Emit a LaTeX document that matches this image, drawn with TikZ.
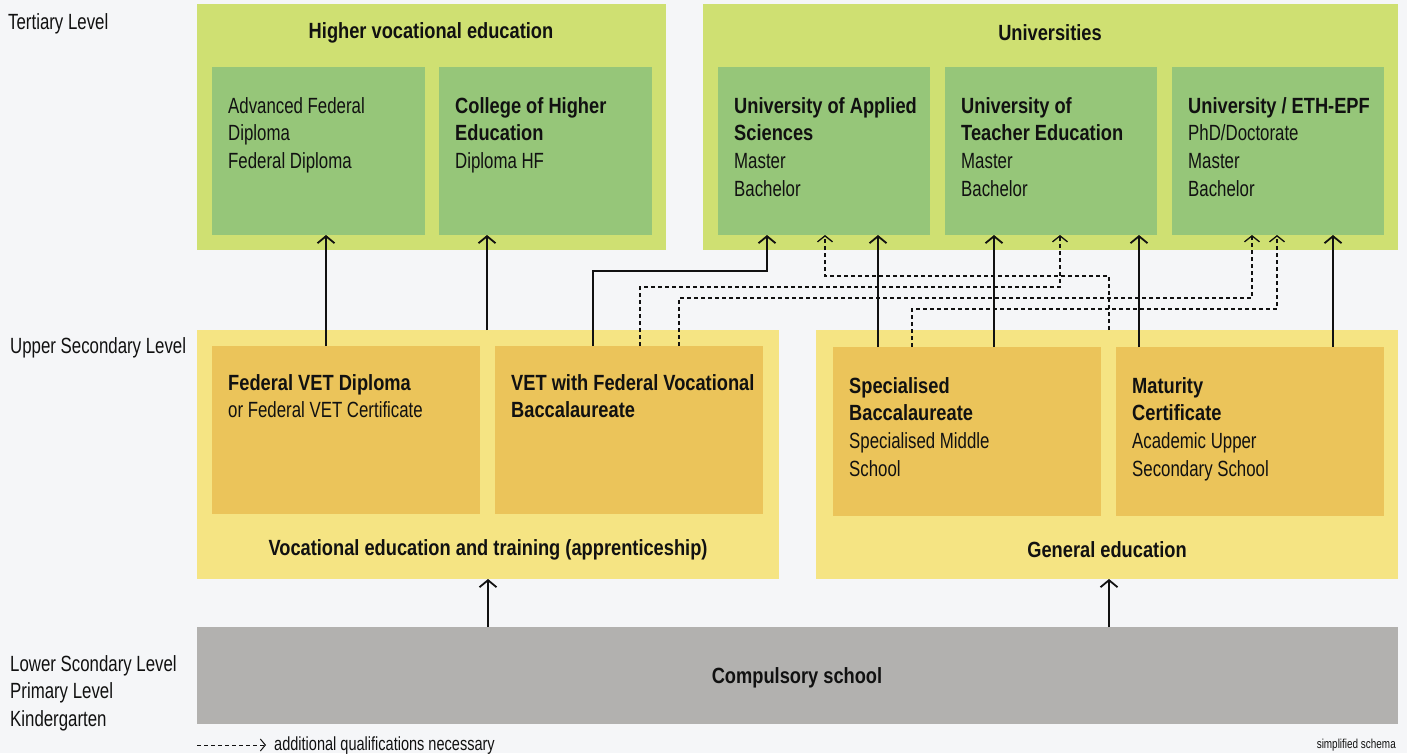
\documentclass[tikz,border=0pt]{standalone}
\usepackage{fontspec}
\setmainfont{Liberation Sans}[FakeStretch=0.765, BoldFeatures={FakeStretch=0.83}]
\usetikzlibrary{arrows.meta}
\definecolor{bg}{HTML}{F5F6F8}
\definecolor{outg}{HTML}{CFE072}
\definecolor{inng}{HTML}{96C679}
\definecolor{outy}{HTML}{F5E483}
\definecolor{inny}{HTML}{EBC45A}
\definecolor{grayb}{HTML}{B2B1AF}
\definecolor{ink}{HTML}{111111}
\begin{document}
\begin{tikzpicture}[x=1pt,y=-1pt,
  box/.style={draw=none, inner sep=0pt, outer sep=0pt, anchor=north west},
  lbl/.style={inner sep=0pt, anchor=north west, align=left, text=ink, font=\fontsize{22}{27.8}\selectfont},
  ttl/.style={inner sep=0pt, text=ink, font=\fontsize{22}{27.8}\selectfont\bfseries},
  arr/.style={draw=ink, line width=1.8pt, -{Straight Barb[length=7pt,width=17pt]}},
  dsh/.style={draw=ink, line width=1.3pt, dash pattern=on 4pt off 3pt, -{Straight Barb[length=6pt,width=15pt]}}
]
\useasboundingbox (0,0) rectangle (1407,753);
\fill[bg] (0,0) rectangle (1407,753);

% outer boxes
\node[box, fill=outg, minimum width=469pt, minimum height=246pt] (hve) at (197,4) {};
\node[box, fill=outg, minimum width=695pt, minimum height=246pt] (uni) at (703,4) {};
\node[box, fill=outy, minimum width=582pt, minimum height=249pt] (vet) at (197,330) {};
\node[box, fill=outy, minimum width=582pt, minimum height=249pt] (gen) at (816,330) {};
\node[box, fill=grayb, minimum width=1201pt, minimum height=97pt] (comp) at (197,627) {};

% inner boxes
\node[box, fill=inng, minimum width=213pt, minimum height=168pt] (hve1) at (212,67) {};
\node[box, fill=inng, minimum width=213pt, minimum height=168pt] (hve2) at (439,67) {};
\node[box, fill=inng, minimum width=212pt, minimum height=168pt] (uas) at (718,67) {};
\node[box, fill=inng, minimum width=212pt, minimum height=168pt] (phz) at (945,67) {};
\node[box, fill=inng, minimum width=212pt, minimum height=168pt] (eth) at (1172,67) {};
\node[box, fill=inny, minimum width=268pt, minimum height=168pt] (fvet) at (212,346) {};
\node[box, fill=inny, minimum width=268pt, minimum height=168pt] (vbac) at (495,346) {};
\node[box, fill=inny, minimum width=268pt, minimum height=169pt] (spec) at (833,347) {};
\node[box, fill=inny, minimum width=268pt, minimum height=169pt] (mat) at (1116,347) {};

% titles
\node[ttl] (thve) at (431,33) {Higher vocational education};
\node[ttl] (tuni) at (1050,33) {Universities};
\node[ttl] (tvet) at (488,550) {Vocational education and training (apprenticeship)};
\node[ttl] (tgen) at (1107,550) {General education};
\node[ttl] (tcomp) at (797,678) {Compulsory school};

% inner texts
\node[lbl] (lhve1) at (228,97) {Advanced Federal\\Diploma\\Federal Diploma};
\node[lbl] (lhve2) at (455,97) {\textbf{College of Higher}\\\textbf{Education}\\Diploma HF};
\node[lbl] (luas) at (734,97) {\textbf{University of Applied}\\\textbf{Sciences}\\Master\\Bachelor};
\node[lbl] (lphz) at (961,97) {\textbf{University of}\\\textbf{Teacher Education}\\Master\\Bachelor};
\node[lbl] (leth) at (1188,97) {\textbf{University / ETH-EPF}\\PhD/Doctorate\\Master\\Bachelor};
\node[lbl] (lfvet) at (228,374) {\textbf{Federal VET Diploma}\\or Federal VET Certificate};
\node[lbl] (lvbac) at (511,374) {\textbf{VET with Federal Vocational}\\\textbf{Baccalaureate}};
\node[lbl] (lspec) at (849,377) {\textbf{Specialised}\\\textbf{Baccalaureate}\\Specialised Middle\\School};
\node[lbl] (lmat) at (1132,377) {\textbf{Maturity}\\\textbf{Certificate}\\Academic Upper\\Secondary School};

% level labels
\node[lbl, anchor=base west] (lv1) at (8,29) {Tertiary Level};
\node[lbl, anchor=base west] (lv2) at (10,353) {Upper Secondary Level};
\node[lbl] (lv3) at (10,655) {Lower Scondary Level\\Primary Level\\Kindergarten};

% solid arrows
\draw[arr] (326,0 |- fvet.north) -- (326,0 |- hve1.south);
\draw[arr] (487,0 |- vet.north) -- (487,0 |- hve2.south);
\draw[arr] (593,0 |- vbac.north) -- (593,271) -- (767,271) -- (767,0 |- uas.south);
\draw[arr] (878,0 |- spec.north) -- (878,0 |- uas.south);
\draw[arr] (994,0 |- spec.north) -- (994,0 |- phz.south);
\draw[arr] (1139,0 |- mat.north) -- (1139,0 |- phz.south);
\draw[arr] (1333,0 |- mat.north) -- (1333,0 |- eth.south);
\draw[arr] (488,0 |- comp.north) -- (488,0 |- vet.south);
\draw[arr] (1109,0 |- comp.north) -- (1109,0 |- gen.south);

% dashed arrows
\draw[dsh] (1109,0 |- gen.north) -- (1109,276) -- (825,276) -- (825,0 |- uas.south);
\draw[dsh] (640,0 |- vbac.north) -- (640,287) -- (1060,287) -- (1060,0 |- phz.south);
\draw[dsh] (679,0 |- vbac.north) -- (679,298) -- (1252,298) -- (1252,0 |- eth.south);
\draw[dsh] (912,0 |- spec.north) -- (912,309) -- (1277,309) -- (1277,0 |- eth.south);

% legend
\coordinate (lg0) at (197,745);
\coordinate (lg1) at (266,745);
\draw[dsh, line width=1pt, -{Straight Barb[length=5pt,width=12pt]}] (lg0) -- (lg1);
\node[inner sep=0pt, anchor=base west, text=ink, font=\fontsize{19}{20}\selectfont] (leg) at (274,750.5) {additional qualifications necessary};
\node[inner sep=0pt, anchor=base east, text=ink, font=\fontsize{13}{14}\selectfont] (simp) at (1396,748) {simplified schema};
\end{tikzpicture}
\end{document}
